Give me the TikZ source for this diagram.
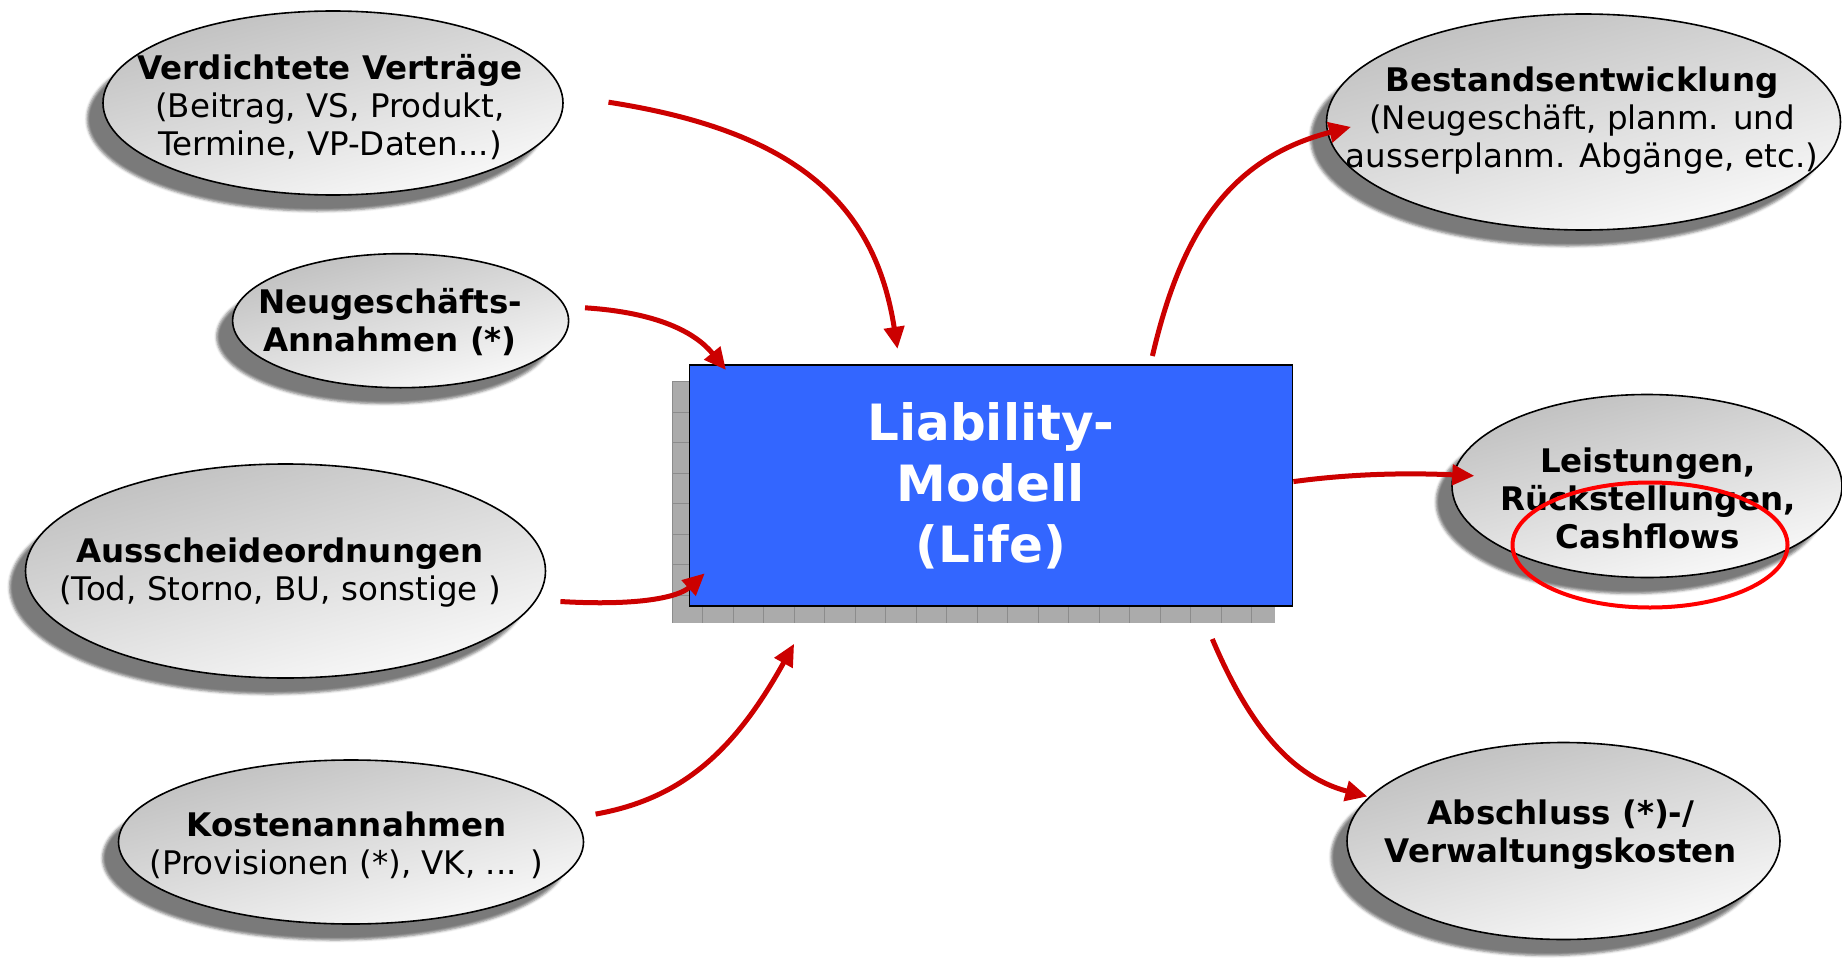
\documentclass[tikz,border=0pt]{standalone}
\usepackage{fontspec}
\setmainfont{DejaVu Sans}
\usetikzlibrary{shapes.geometric,arrows.meta,shadows,shadows.blur}

\definecolor{boxblue}{HTML}{3366FF}
\definecolor{arrred}{HTML}{CC0000}
\definecolor{markred}{HTML}{FF0000}

\begin{document}
\begin{tikzpicture}[x=1pt,y=-1pt,
  bubble/.style={ellipse, draw=black, line width=1.6pt, inner sep=0pt,
    top color=black!25, bottom color=black!2, shading angle=15,
    blur shadow={shadow xshift=-16pt, shadow yshift=-16pt,
                 shadow blur radius=2.5pt, shadow opacity=52}},
  btext/.style={align=center, inner sep=0pt, font=\fontsize{32.5}{38}\selectfont},
  model/.style={rectangle, draw=black, line width=1.8pt, fill=boxblue,
    minimum width=603pt, minimum height=241pt, inner sep=0pt, text=white,
    align=center, font=\fontsize{50}{61}\selectfont\bfseries},
  flow/.style={arrred, line width=5pt, -{Triangle[length=22pt,width=20pt]}},
  marker/.style={ellipse, draw=markred, line width=4pt, inner sep=0pt}
]
\useasboundingbox (0,0) rectangle (1842,958);

% textured shadow of the model box
\fill[black!33] (672,381.7) rectangle (1274.6,622.6);
\begin{scope}
  \clip (672,381.7) rectangle (1274.6,622.6);
  \foreach \gx in {0,...,20} \draw[black!45, line width=1pt] (672+30.5*\gx,381.7) -- (672+30.5*\gx,622.6);
  \foreach \gy in {0,...,8} \draw[black!45, line width=1pt] (672,381.7+30.5*\gy) -- (1274.6,381.7+30.5*\gy);
\end{scope}

% central model box
\node[model] (model) at (990.9,485.8) {Liability-\\Modell\\(Life)};

% input bubbles
\node[bubble, minimum width=460pt, minimum height=184pt] (vv) at (333,103) {};
\node[btext] (vvt) at (330,107) {\textbf{Verdichtete Verträge}\\(Beitrag, VS, Produkt,\\Termine, VP-Daten...)};

\node[bubble, minimum width=336pt, minimum height=134pt] (ng) at (400.6,320.7) {};
\node[btext, font=\fontsize{32.5}{38}\selectfont\bfseries] (ngt) at (390,322.5) {Neugeschäfts-\\Annahmen (*)};

\node[bubble, minimum width=520pt, minimum height=214pt] (ao) at (285.5,571) {};
\node[btext] (aot) at (280,572.5) {\textbf{Ausscheideordnungen}\\(Tod, Storno, BU, sonstige )};

\node[bubble, minimum width=465pt, minimum height=164pt] (ka) at (351,842) {};
\node[btext] (kat) at (346.5,845) {\textbf{Kostenannahmen}\\(Provisionen (*), VK, ... )};

% output bubbles
\node[bubble, minimum width=514pt, minimum height=216pt] (be) at (1583.5,122) {};
\node[btext] (bet) at (1582,121) {\textbf{Bestandsentwicklung}\\(Neugeschäft, planm. und\\ausserplanm. Abgänge, etc.)};

\node[bubble, minimum width=390pt, minimum height=183pt] (lr) at (1647,486) {};
\node[btext, font=\fontsize{32.5}{38}\selectfont\bfseries] (lrt) at (1648,498) {Leistungen,\\Rückstellungen,\\Cashflows};

\node[bubble, minimum width=433pt, minimum height=197pt] (ak) at (1563.5,841) {};
\node[btext, font=\fontsize{32.5}{38}\selectfont\bfseries] (akt) at (1561,835) {Abschluss (*)-/\\Verwaltungskosten};

% highlight around the cash flows
\node[marker, minimum width=275pt, minimum height=125pt] (mark) at (1650,545) {};

% connector end points
\coordinate (vvout) at (608.5,102.2);
\coordinate (vvin)  at (897.5,348.9);
\coordinate (ngout) at (585,307.8);
\coordinate (ngin)  at (726,370);
\coordinate (aoout) at (560.4,601.5);
\coordinate (aoin)  at (704.8,573.3);
\coordinate (kaout) at (595.6,814.1);
\coordinate (kain)  at (794.1,643.8);
\coordinate (beout) at (1152.4,356);
\coordinate (bein)  at (1351,126.9);
\coordinate (lrout) at (1293.4,481.6);
\coordinate (lrin)  at (1474.3,475.8);
\coordinate (akout) at (1212.3,639);
\coordinate (akin)  at (1367.4,796.5);

% flows into the model
\draw[flow] (vvout) .. controls (798.8,131.6) and (875.2,205.6) .. (vvin);
\draw[flow] (ngout) .. controls (657.9,312.5) and (695.5,332.5) .. (ngin);
\draw[flow] (aoout) .. controls (640.2,606.2) and (679,596.8) .. (aoin);
\draw[flow] (kaout) .. controls (681.3,798.8) and (734.2,751.8) .. (kain);

% flows out of the model
\draw[flow] (beout) .. controls (1180.6,235) and (1227.6,158.6) .. (bein);
\draw[flow] (lrout) .. controls (1362.7,472.2) and (1421.4,473.4) .. (lrin);
\draw[flow] (akout) .. controls (1245.2,716.6) and (1286.3,775.3) .. (akin);
\end{tikzpicture}
\end{document}
